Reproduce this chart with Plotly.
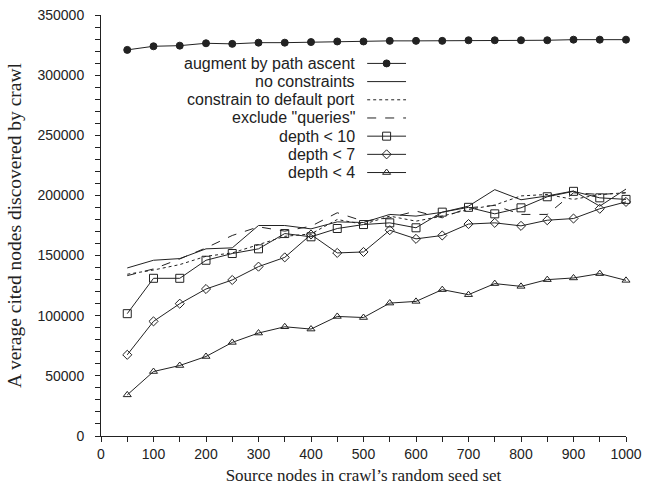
import plotly.graph_objects as go

x_vals = [50, 100, 150, 200, 250, 300, 350, 400, 450, 500,
          550, 600, 650, 700, 750, 800, 850, 900, 950, 1000]

augment = [321000, 324000, 324500, 326500, 326000, 327000, 327000, 327500, 328000, 328000,
           328500, 328500, 328500, 329000, 329000, 329000, 329000, 329500, 329500, 329500]
no_constraints = [139700, 146100, 147500, 155600, 156400, 175000, 175000, 172200, 178000, 177500,
                  184200, 182800, 186000, 191100, 204800, 196400, 199600, 203700, 191100, 205300]
default_port = [134500, 138000, 142500, 149400, 152200, 159000, 166000, 168000, 180000, 176000,
                182800, 178600, 182800, 188300, 192000, 199600, 200800, 196700, 200800, 202200]
exclude_queries = [133300, 138900, 147200, 156400, 166700, 173900, 170300, 174400, 185600, 178600,
                   181400, 187000, 181400, 189700, 191700, 184200, 184200, 202200, 200800, 202200]
depth10 = [101700, 131100, 131100, 146100, 151700, 155600, 168300, 165600, 172500, 175800,
           177200, 173100, 186100, 190100, 184700, 189700, 198900, 203400, 198000, 196700]
depth7 = [67500, 95300, 110000, 122200, 129700, 140800, 148500, 167500, 152200, 153000,
          171100, 163900, 166700, 176200, 177200, 174700, 179400, 180800, 188900, 194600]
depth4 = [34200, 53600, 58600, 66100, 77800, 85600, 90800, 88900, 99400, 98500,
          110500, 111900, 121700, 117500, 126700, 124400, 130000, 131400, 135000, 129400]

series_names = ['augment by path ascent', 'no constraints', 'constrain to default port',
                'exclude "queries"', 'depth < 10', 'depth < 7', 'depth < 4']
series_values = [augment, no_constraints, default_port, exclude_queries, depth10, depth7, depth4]

INK = '#222222'
styles = [
    dict(dash='solid', symbol='circle', size=7, mode='lines+markers'),
    dict(dash='solid', symbol=None, size=0, mode='lines'),
    dict(dash='dot', symbol=None, size=0, mode='lines'),
    dict(dash='dash', symbol=None, size=0, mode='lines'),
    dict(dash='solid', symbol='square-open', size=8, mode='lines+markers'),
    dict(dash='solid', symbol='diamond-open', size=7, mode='lines+markers'),
    dict(dash='solid', symbol='triangle-up-open', size=7, mode='lines+markers'),
]

fig = go.Figure()
for name, vals, st in zip(series_names, series_values, styles):
    marker = dict(color=INK, size=st['size'], line=dict(color=INK, width=1))
    if st['symbol']:
        marker['symbol'] = st['symbol']
    fig.add_trace(go.Scatter(x=x_vals, y=vals, mode=st['mode'], name=name,
                             line=dict(color=INK, width=1, dash=st['dash']),
                             marker=marker, showlegend=False, cliponaxis=False))

# Manual legend (text right, sample on the right side) on an overlay axis in [0,1]
row_top = 0.885
row_step = 0.0432
sample_x0, sample_x1, sample_xm = 0.507, 0.581, 0.544
text_x = 0.488
for i, (name, st) in enumerate(zip(series_names, styles)):
    ry = row_top - i * row_step
    fig.add_trace(go.Scatter(x=[sample_x0, sample_x1], y=[ry, ry], mode='lines',
                             line=dict(color=INK, width=1, dash=st['dash']),
                             xaxis='x2', yaxis='y2', showlegend=False, hoverinfo='skip'))
    if st['symbol']:
        fig.add_trace(go.Scatter(x=[sample_xm], y=[ry], mode='markers',
                                 marker=dict(symbol=st['symbol'], size=st['size'], color=INK,
                                             line=dict(color=INK, width=1)),
                                 xaxis='x2', yaxis='y2', showlegend=False, hoverinfo='skip'))
    fig.add_annotation(x=text_x, y=ry, xref='paper', yref='paper', text=name,
                       showarrow=False, xanchor='right', yanchor='middle',
                       font=dict(family='Liberation Sans, Arial, sans-serif', size=16, color=INK))

axis_common = dict(showline=True, linecolor=INK, linewidth=1, ticks='outside', ticklen=5,
                   tickcolor=INK, tickwidth=1, showgrid=False, zeroline=False,
                   tickfont=dict(family='Liberation Sans, Arial, sans-serif', size=14, color=INK),
                   mirror=False, automargin=False)

fig.update_layout(
    width=655, height=489,
    margin=dict(l=101, r=29, t=15, b=53),
    paper_bgcolor='white', plot_bgcolor='white',
    xaxis=dict(range=[0, 1000], dtick=100, tick0=0,
               minor=dict(dtick=50, ticks='outside', ticklen=5, tickcolor=INK, showgrid=False),
               title=dict(text='Source nodes in crawl\u2019s random seed set', standoff=8,
                          font=dict(family='Liberation Serif, Times New Roman, serif', size=17, color=INK)),
               **axis_common),
    yaxis=dict(range=[0, 350000], dtick=50000, tick0=0, tickformat='d', ticklabelstandoff=8,
               minor=dict(dtick=10000, ticks='outside', ticklen=5, tickcolor=INK, showgrid=False),
               title=dict(text='A verage cited nodes discovered by crawl', standoff=10,
                          font=dict(family='Liberation Serif, Times New Roman, serif', size=19.5, color=INK)),
               **axis_common),
    xaxis2=dict(range=[0, 1], overlaying='x', visible=False, fixedrange=True),
    yaxis2=dict(range=[0, 1], overlaying='y', visible=False, fixedrange=True),
    showlegend=False,
)

fig.write_html('out.html', config={'displayModeBar': False},
               post_script="document.body.style.margin='0';document.body.style.padding='0';")
